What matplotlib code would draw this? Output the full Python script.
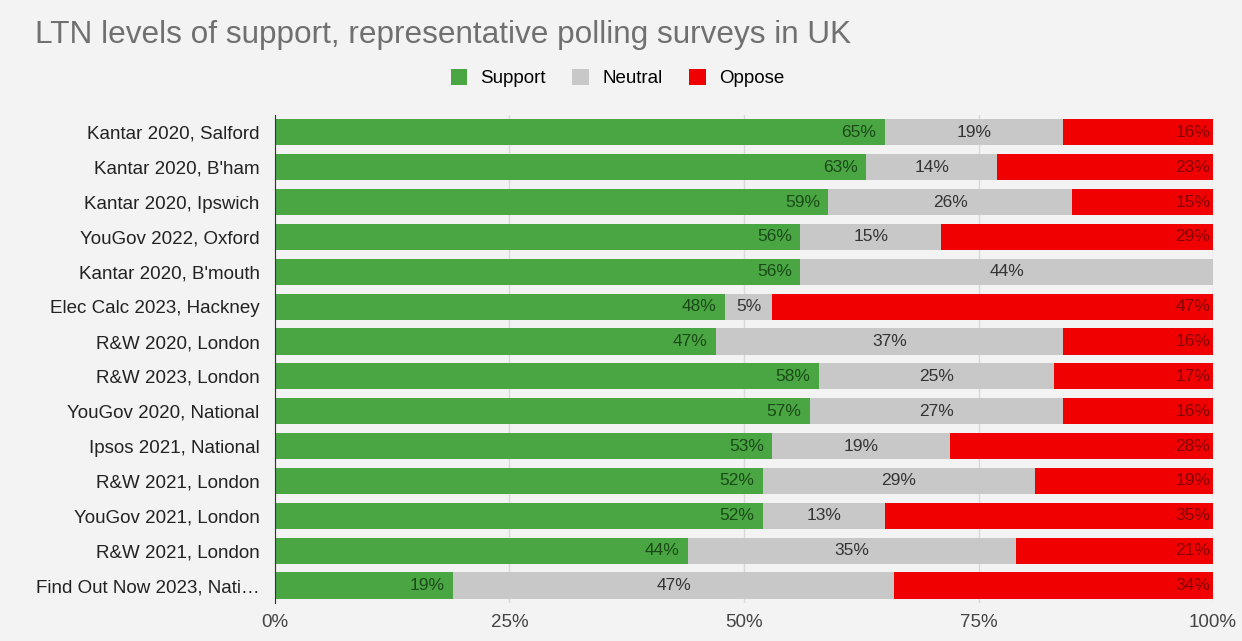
import matplotlib
matplotlib.use('Agg')
import matplotlib.pyplot as plt
import numpy as np

plt.rcParams['font.family'] = ['Liberation Sans', 'DejaVu Sans']

# Survey data (percent)
surveys = ["Kantar 2020, Salford", "Kantar 2020, B'ham", "Kantar 2020, Ipswich",
           "YouGov 2022, Oxford", "Kantar 2020, B'mouth", "Elec Calc 2023, Hackney",
           "R&W 2020, London", "R&W 2023, London", "YouGov 2020, National",
           "Ipsos 2021, National", "R&W 2021, London", "YouGov 2021, London",
           "R&W 2021, London", "Find Out Now 2023, Nati\u2026"]
support = [65, 63, 59, 56, 56, 48, 47, 58, 57, 53, 52, 52, 44, 19]
neutral = [19, 14, 26, 15, 44, 5, 37, 25, 27, 19, 29, 13, 35, 47]
oppose = [16, 23, 15, 29, 0, 47, 16, 17, 16, 28, 19, 35, 21, 34]
x_ticks = [0, 25, 50, 75, 100]

bg = '#f3f3f3'
c_sup, c_neu, c_opp = '#4aa543', '#c8c8c8', '#f00000'

fig = plt.figure(figsize=(12.42, 6.41), dpi=100, facecolor=bg)
ax = fig.add_axes([0.2214, 0.0593, 0.7553, 0.7613], facecolor=bg)

y = np.arange(len(surveys))
sup = np.array(support)
neu = np.array(neutral)
opp = np.array(oppose)
h = 0.75

ax.barh(y, sup, height=h, color=c_sup, label='Support', zorder=3)
ax.barh(y, neu, left=sup, height=h, color=c_neu, label='Neutral', zorder=3)
ax.barh(y, opp, left=sup + neu, height=h, color=c_opp, label='Oppose', zorder=3)

for i in range(len(surveys)):
    # support label right-aligned at end of green segment
    ax.text(sup[i] - 0.9, y[i], f'{sup[i]}%', ha='right', va='center',
            fontsize=12.5, color='#1a4a17', zorder=4)
    if neu[i] > 0:
        ax.text(sup[i] + neu[i] / 2, y[i], f'{neu[i]}%', ha='center', va='center',
                fontsize=12.5, color='#333333', zorder=4)
    if opp[i] > 0:
        ax.text(99.7, y[i], f'{opp[i]}%', ha='right', va='center',
                fontsize=12.5, color='#860000', zorder=4)

ax.set_xlim(0, 100)
ax.set_ylim(len(surveys) - 0.5, -0.5)
ax.set_yticks(y)
ax.set_yticklabels(surveys, fontsize=13.5, color='#222222')
ax.set_xticks(x_ticks)
ax.set_xticklabels([f'{t}%' for t in x_ticks], fontsize=13.5, color='#444444')
ax.tick_params(axis='both', length=0)
ax.tick_params(axis='x', pad=8)
ax.tick_params(axis='y', pad=11)
ax.grid(axis='x', color='#d9d9d9', linewidth=1, zorder=0)
for s in ['top', 'right', 'bottom']:
    ax.spines[s].set_visible(False)
ax.spines['left'].set_color('#333333')
ax.spines['left'].set_zorder(5)

fig.text(0.028, 0.945, 'LTN levels of support, representative polling surveys in UK',
         fontsize=22.7, color='#707070', va='center')
fig.legend(loc='center', bbox_to_anchor=(0.497, 0.878), ncol=3, frameon=False,
           fontsize=13.5, handlelength=0.9, handleheight=0.9, columnspacing=1.4,
           handletextpad=0.7)

plt.savefig('out.png', dpi=100, facecolor=bg)
plt.close()
